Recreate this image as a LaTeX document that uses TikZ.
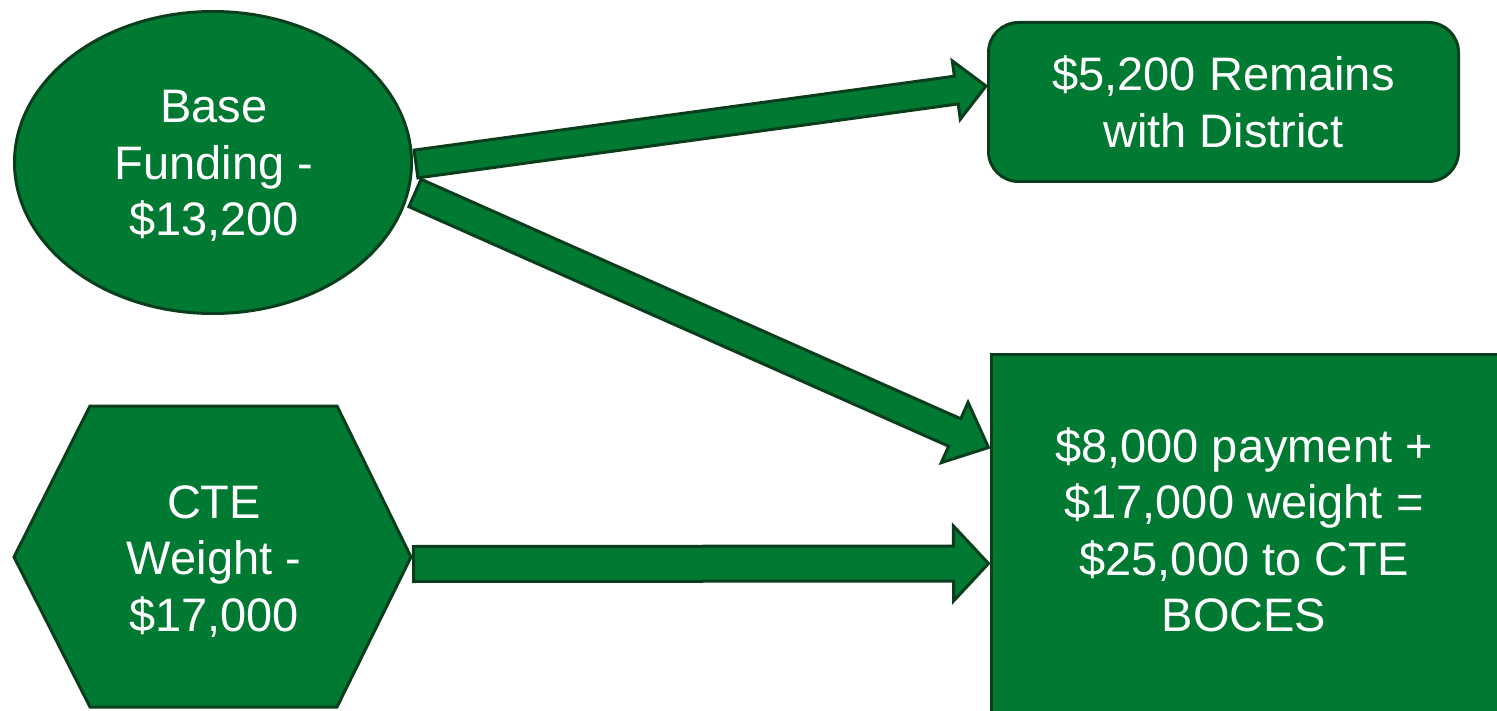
\documentclass[tikz,border=0pt]{standalone}
\usepackage{fontspec}
\setmainfont{Liberation Sans}
\usetikzlibrary{shapes.geometric,calc}
\definecolor{gfill}{RGB}{0,122,51}
\definecolor{gline}{RGB}{8,62,28}
\tikzset{
  shapebox/.style={fill=gfill, draw=gline, line width=3pt},
  arrowbody/.style={fill=gfill, draw=gline, line width=3pt, line join=miter},
  lbl/.style={text=white, align=center, inner sep=0pt, font=\fontsize{47}{56.5}\selectfont},
}
% start, tip, half shaft width, half head width, head length
\newcommand\blockarr[5]{%
  \coordinate (hb) at ($(#2)!#5!(#1)$);
  \draw[arrowbody] ($(#1)!#3!90:(#2)$) -- ($(hb)!#3!90:(#2)$) -- ($(hb)!#4!90:(#2)$)
    -- (#2) -- ($(hb)!#4!-90:(#2)$) -- ($(hb)!#3!-90:(#2)$) -- ($(#1)!#3!-90:(#2)$) -- cycle;
}
\begin{document}
\begin{tikzpicture}[x=1pt,y=-1pt]
\useasboundingbox (0,0) rectangle (1497,711);
\clip (0,0) rectangle (1497,711);
% shapes
\node[shapebox, ellipse, minimum width=397pt, minimum height=302pt, inner sep=0pt] (base) at (213,162.5) {};
\draw[shapebox] (14,557) -- (90,406) -- (337,406) -- (411,557) -- (337,707) -- (90,707) -- cycle;
\coordinate (cte) at (212.5,557);
\node[shapebox, rectangle, rounded corners=30pt, minimum width=470pt, minimum height=159pt, inner sep=0pt] (remain) at (1223.5,102) {};
\node[shapebox, rectangle, minimum width=520pt, minimum height=380pt, inner sep=0pt, anchor=north west] (boces) at (989.5,353.5) {};
% arrow ends
\coordinate (a1s) at ($(base.east)+(3,1.5)$);
\coordinate (a1e) at ($(remain.west)+(-1,-16)$);
\coordinate (a2s) at ($(base.east)+(2,30.5)$);
\coordinate (a2e) at ($(boces.north west)+(-1,94)$);
\coordinate (a3s) at ($(cte)+(201,7)$);
\coordinate (a3e) at ($(boces.north west)+(-1,210)$);
% arrows
\blockarr{a1s}{a1e}{14pt}{29.5pt}{30pt}
\blockarr{a2s}{a2e}{15pt}{33pt}{37pt}
\blockarr{a3s}{a3e}{17.5pt}{37.5pt}{35pt}
% texts
\node[lbl] (basetxt) at (214,166) {Base\\Funding -\\\$13,200};
\node[lbl] (ctetxt) at (214,561.5) {CTE\\Weight -\\\$17,000};
\node[lbl] (remtxt) at (1223.5,102) {\$5,200 Remains\\with District};
\node[lbl] (bocestxt) at (1244,530) {\$8,000 payment +\\\$17,000 weight =\\\$25,000 to CTE\\BOCES};
\end{tikzpicture}
\end{document}
